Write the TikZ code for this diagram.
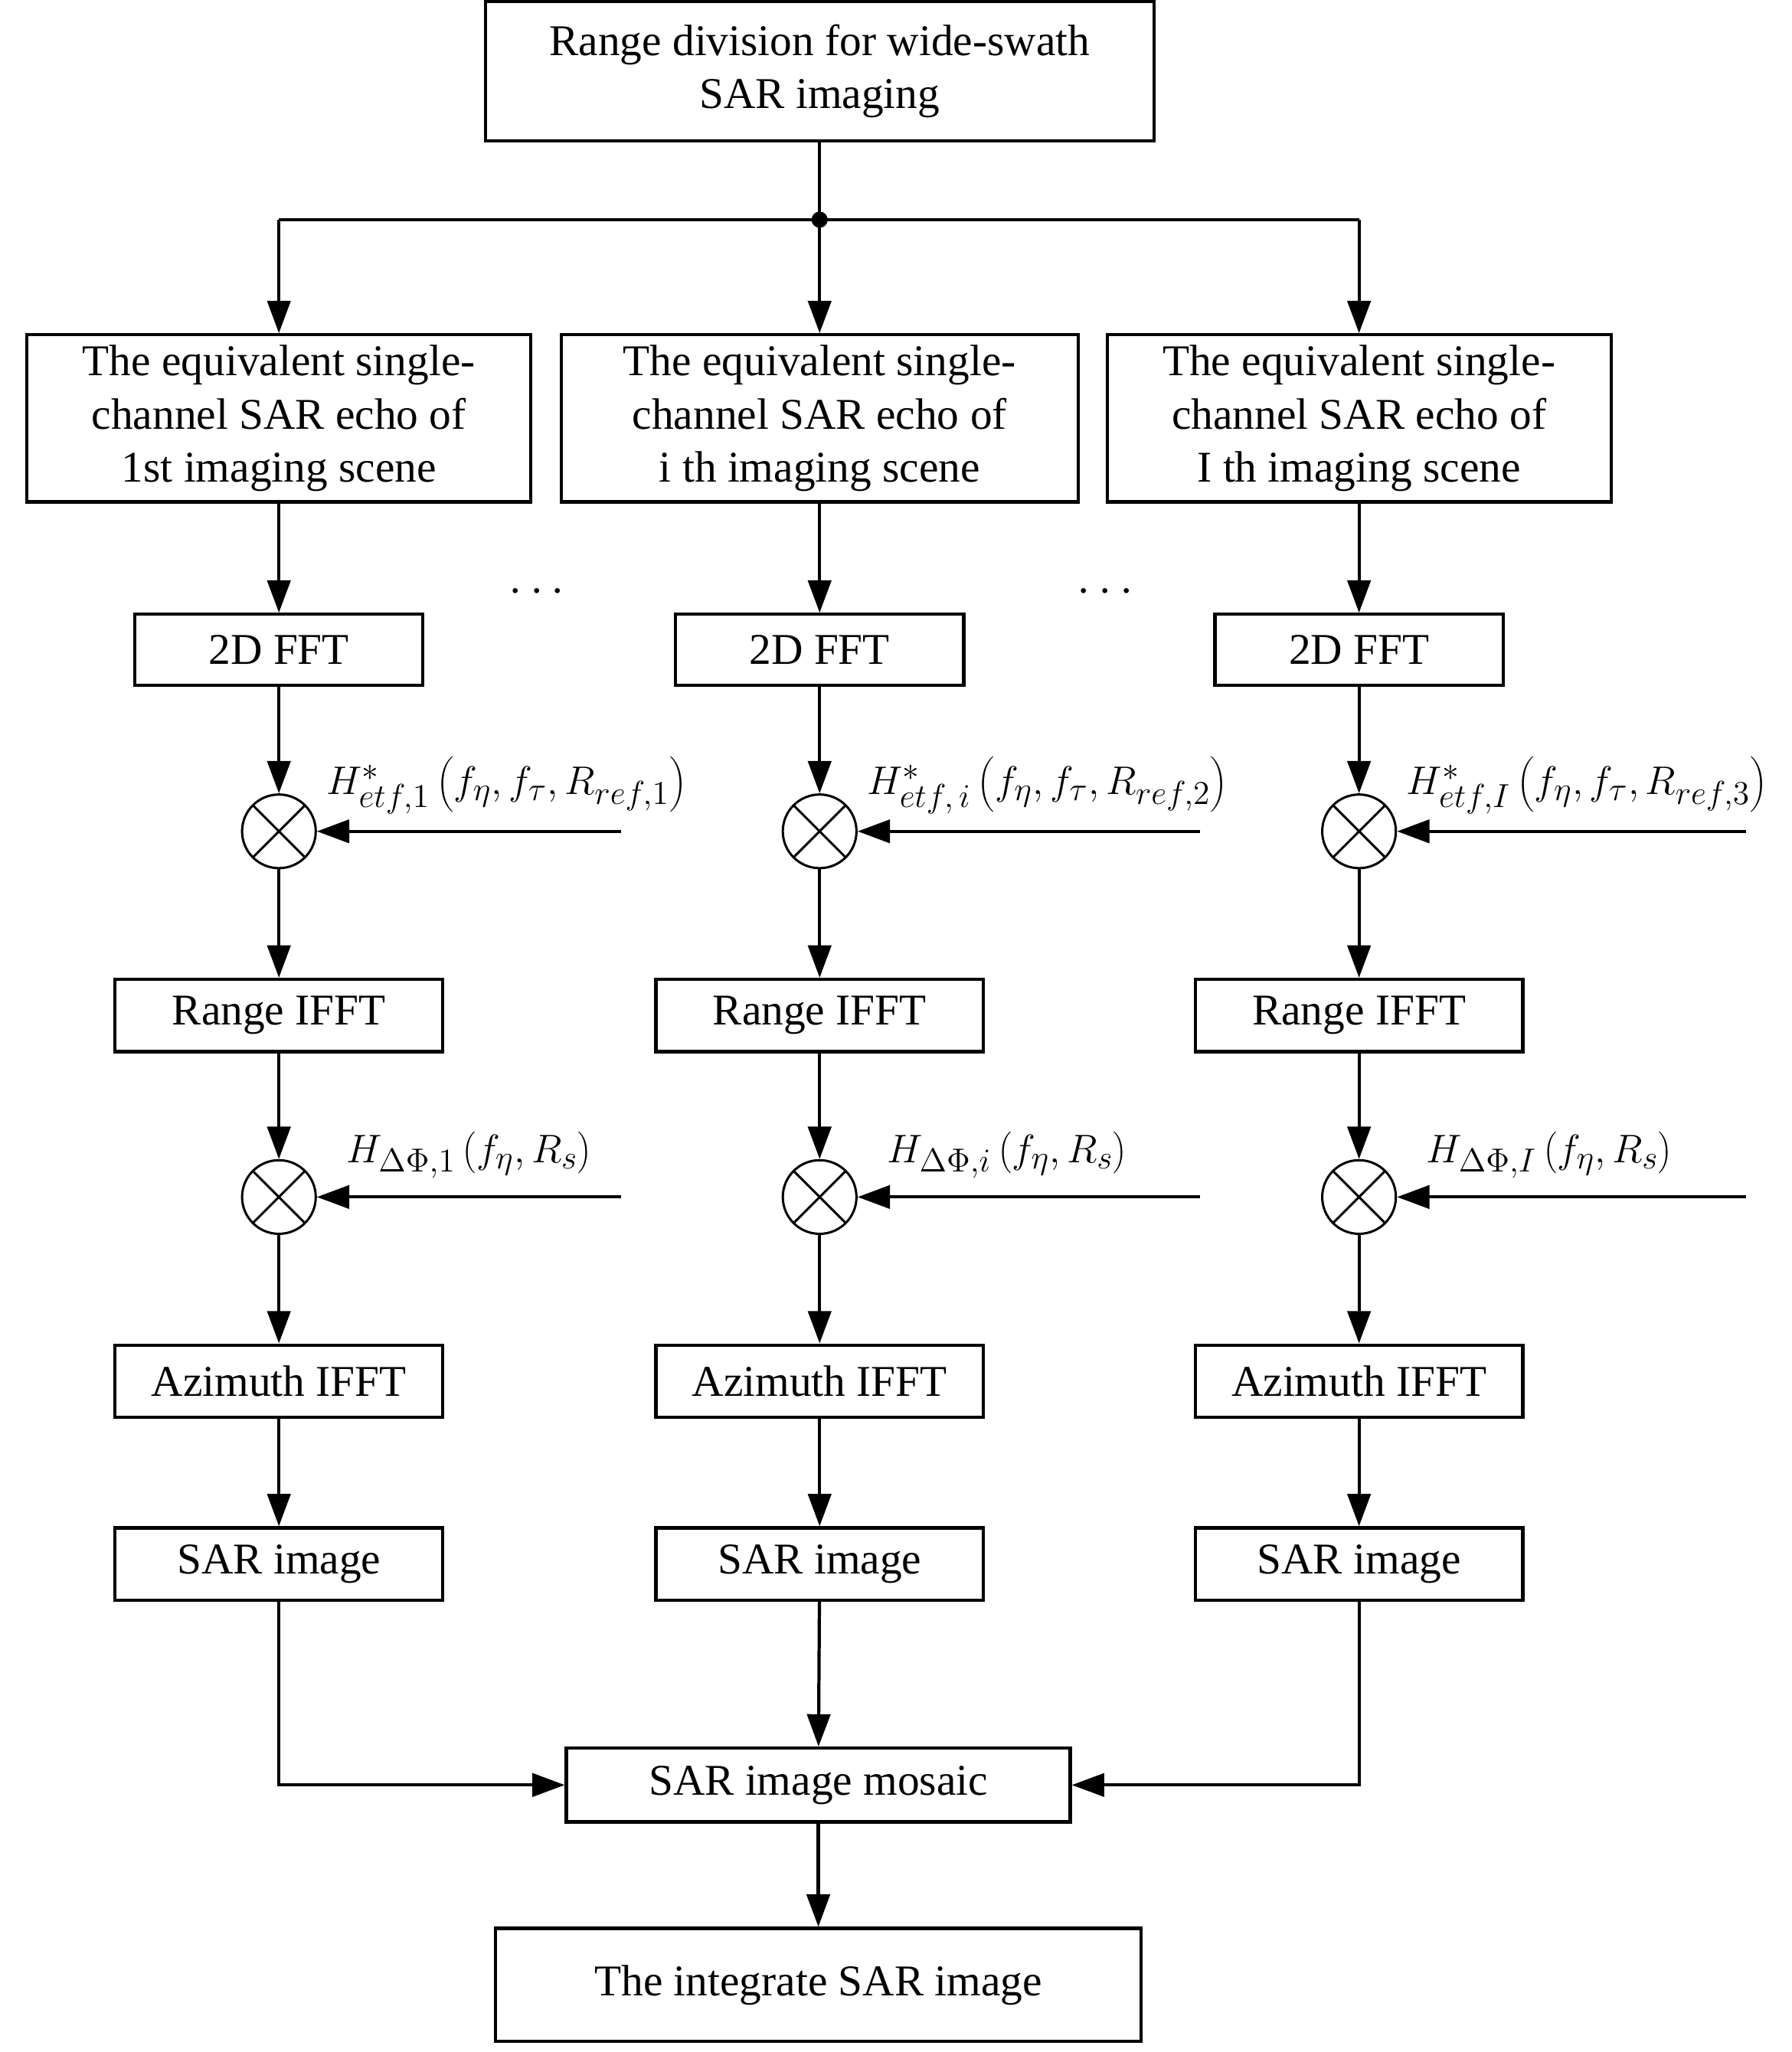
\documentclass[tikz,border=0pt]{standalone}
\usepackage{fontspec}
\setmainfont{Liberation Serif}
\usetikzlibrary{arrows.meta}
\begin{document}
\begin{tikzpicture}[x=0.02cm,y=-0.02cm,
  box/.style={draw,line width=1.4pt,minimum width=#1*0.02cm,align=center,inner sep=0pt,font=\fontsize{19}{23}\selectfont},
  arr/.style={line width=1.4pt,-{Triangle[length=14pt,width=10pt]}},
  ln/.style={line width=1.4pt},
  mul/.style={draw,circle,line width=1pt,minimum size=56*0.02cm,inner sep=0pt,path picture={\draw[line width=1pt] (path picture bounding box.north west)--(path picture bounding box.south east) (path picture bounding box.north east)--(path picture bounding box.south west);}},
  lab/.style={anchor=west,font=\fontsize{19}{23}\selectfont}]
\useasboundingbox (0,0) rectangle (1362,1560);
\node[box=508,minimum height=106*0.02cm] (top) at (623,54) {Range division for wide-swath\\SAR imaging};
\coordinate (j) at (623,167);
\fill (j) circle (3.5pt);
\draw[ln] (top) -- (j);
\foreach \c/\x/\w/\lbl/\r/\hs/\hd in {1/212/383/1st/472/{etf,1}/{\Delta\Phi,1},2/623/393/i th/912/{etf,\,i}/{\Delta\Phi,i},3/1033/383/I th/1327/{etf,I}/{\Delta\Phi,I}}{
  \node[box=\w,minimum height=127*0.02cm] (e\c) at (\x,318) {The equivalent single-\\channel SAR echo of\\\lbl\ imaging scene};
  \node[box=219,minimum height=54*0.02cm] (f\c) at (\x,494) {2D FFT};
  \node[mul] (m\c) at (\x,632) {};
  \node[box=249,minimum height=55*0.02cm] (r\c) at (\x,772) {Range IFFT};
  \node[mul] (n\c) at (\x,910) {};
  \node[box=249,minimum height=55*0.02cm] (a\c) at (\x,1050) {Azimuth IFFT};
  \node[box=249,minimum height=55*0.02cm] (s\c) at (\x,1189) {SAR image};
  \coordinate (t\c) at (\x,167);
  \coordinate (p\c) at (\r,632);
  \coordinate (q\c) at (\r,910);
  \draw[arr] (t\c) -- (e\c);
  \draw[arr] (e\c) -- (f\c);
  \draw[arr] (f\c) -- (m\c);
  \draw[arr] (m\c) -- (r\c);
  \draw[arr] (r\c) -- (n\c);
  \draw[arr] (n\c) -- (a\c);
  \draw[arr] (a\c) -- (s\c);
  \draw[arr] (p\c) -- (m\c);
  \draw[arr] (q\c) -- (n\c);
  \node[lab] (h\c) at (\x+30,597) {$H^{*}_{\hs}\left(f_\eta,f_\tau,R_{ref,\c}\right)$};
  \node[lab] (g\c) at (\x+45,878) {$H_{\hd}\left(f_\eta,R_s\right)$};
}
\node[lab] at (h2.west) {\phantom{x}};
\draw[ln] (t1) -- (t3);
\node[font=\fontsize{22}{22}\selectfont] (d1) at (408,450) {$\cdots$};
\node[font=\fontsize{22}{22}\selectfont] (d2) at (840,450) {$\cdots$};
\node[box=383,minimum height=56*0.02cm] (mos) at (622,1357) {SAR image mosaic};
\node[box=491,minimum height=86*0.02cm] (fin) at (622,1509) {The integrate SAR image};
\draw[arr] (s1) |- (mos);
\draw[arr] (s3) |- (mos);
\draw[arr] (s2) -- (mos);
\draw[arr] (mos) -- (fin);
\end{tikzpicture}
\end{document}
